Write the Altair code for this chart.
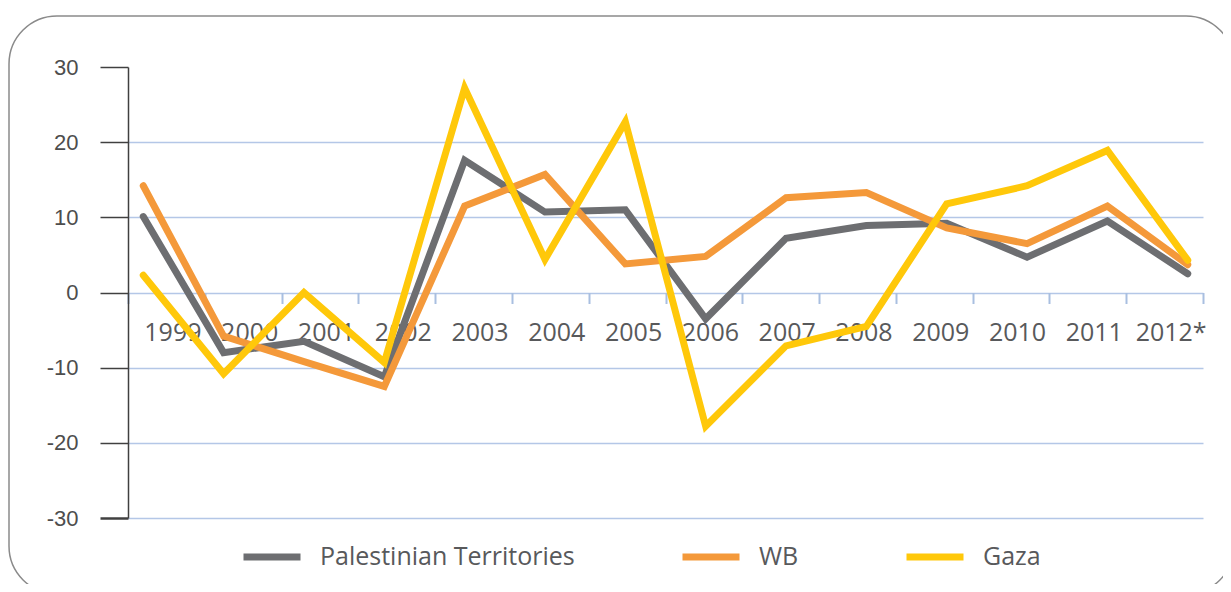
import altair as alt
import pandas as pd

# ---- data ----
years = ["1999", "2000", "2001", "2002", "2003", "2004", "2005",
         "2006", "2007", "2008", "2009", "2010", "2011", "2012*"]
pal_territories = [10.1, -8.0, -6.5, -11.2, 17.6, 10.7, 11.0, -3.5, 7.2, 8.9, 9.2, 4.7, 9.5, 2.5]
west_bank = [14.2, -5.8, -9.2, -12.5, 11.5, 15.7, 3.8, 4.8, 12.6, 13.3, 8.6, 6.5, 11.5, 3.7]
gaza = [2.3, -10.8, 0.0, -9.3, 27.2, 4.4, 22.7, -17.8, -7.1, -4.5, 11.8, 14.2, 18.9, 4.3]
series_names = ["Palestinian Territories", "WB", "Gaza"]
series_colors = ["#6d6e71", "#f4993a", "#ffc80a"]
y_ticks = [-30, -20, -10, 0, 10, 20, 30]

rows = []
for name, vals in zip(series_names, [pal_territories, west_bank, gaza]):
    for yr, v in zip(years, vals):
        rows.append({"year": yr, "value": v, "series": name})
df = pd.DataFrame(rows)
axis_df = pd.DataFrame({"year": years})

W, H = 1075, 451

lines = alt.Chart(df).mark_line(
    strokeWidth=7, strokeCap="round", strokeJoin="miter"
).encode(
    x=alt.X("year:N", scale=alt.Scale(type="point", domain=years, padding=0.19), axis=None),
    y=alt.Y(
        "value:Q",
        scale=alt.Scale(domain=[-30, 30], nice=False, zero=False),
        axis=alt.Axis(
            values=y_ticks, title=None,
            tickSize=28, tickColor="#404040",
            tickWidth=alt.condition("datum.value == -30", alt.value(2.5), alt.value(1.5)),
            domainColor="#404040", domainWidth=1.5,
            labelFont="Liberation Sans", labelFontSize=22, labelColor="#4d4d4d",
            labelPadding=22, labelExpr="'' + datum.value",
            grid=True, gridColor="#b4c7e7", gridWidth=1.6,
            gridOpacity=alt.condition("datum.value == 30", alt.value(0), alt.value(1)),
        ),
    ),
    color=alt.Color(
        "series:N",
        scale=alt.Scale(domain=series_names, range=series_colors),
        sort=series_names,
        legend=alt.Legend(
            orient="none", legendX=112, legendY=458, direction="horizontal",
            title=None, symbolType="stroke", symbolSize=3249, symbolStrokeWidth=7,
            labelFont="Open Sans", labelFontSize=25, labelColor="#58595b",
            labelLimit=400, columnPadding=93, labelOffset=16,
        ),
    ),
    order=alt.Order("series:N"),
)

axis_layer = alt.Chart(axis_df).mark_point(opacity=0).encode(
    x=alt.X(
        "year:N",
        scale=alt.Scale(type="band", domain=years, paddingInner=0, paddingOuter=0),
        axis=alt.Axis(
            title=None, orient="bottom", offset=-225.5, domain=False, grid=False,
            tickBand="extent", tickSize=11, tickColor="#a9bfe0", tickWidth=2,
            labelFont="Open Sans", labelFontSize=25, labelColor="#58595b",
            labelPadding=17, labelAngle=0, labelOffset=6, labelFlush=False,
            labelOverlap=False,
        ),
    )
)

frame = alt.Chart(alt.Data(values=[{"a": 1}])).mark_rect(
    fill="transparent", stroke="#8a8a8a", strokeWidth=1.5, cornerRadius=48
).encode(
    x=alt.value(-119), x2=alt.value(1106), y=alt.value(-51), y2=alt.value(527)
)

chart = alt.layer(frame, lines, axis_layer).resolve_scale(
    x="independent"
).properties(
    width=W, height=H,
    autosize=alt.AutoSizeParams(type="none"),
    padding={"left": 120, "top": 59, "right": 20, "bottom": 66},
).configure_view(strokeWidth=0)

chart.save("out.html", embed_options={"renderer": "svg", "actions": False})
